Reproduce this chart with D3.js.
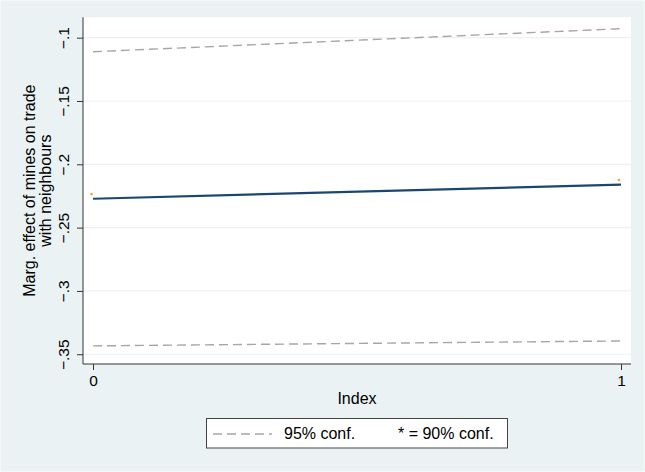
<!DOCTYPE html>
<html>
<head>
<meta charset="utf-8">
<script src="https://cdn.jsdelivr.net/npm/d3@7"></script>
<style>
  body { margin: 0; background: #eaf2f3; }
  svg { display: block; font-family: "Liberation Sans", Arial, sans-serif; }
</style>
</head>
<body>
<svg id="chart" width="645" height="472"></svg>
<script>
// values
const index = [0, 1];
const estimate = [-0.2272, -0.2161];
const upper95 = [-0.1111, -0.0929];
const lower95 = [-0.3434, -0.3395];
const star90 = [-0.2235, -0.2124];

const yTicks = [-0.1, -0.15, -0.2, -0.25, -0.3, -0.35];
const yTickLabels = ["\u2212.1", "\u2212.15", "\u2212.2", "\u2212.25", "\u2212.3", "\u2212.35"];
const xTicks = [0, 1];
const xTickLabels = ["0", "1"];

const yTitle = ["Marg. effect of mines on trade", "with neighbours"];
const xTitle = "Index";
const legendItems = ["95% conf.", "* = 90% conf."];

const navy = "#1a476f";
const dashGrey = "#a6a6a6";
const bg = "#eaf2f3";

const svg = d3.select("#chart");

const plot = { left: 83, right: 631, top: 17.3, bottom: 364 };

const x = d3.scaleLinear().domain([0, 1]).range([93, 621]);
const y = d3.scaleLinear().domain([-0.3577, -0.0839]).range([plot.bottom, plot.top]);

svg.append("rect")
  .attr("x", 0.5).attr("y", 0.5)
  .attr("width", 644).attr("height", 471)
  .attr("fill", bg)
  .attr("stroke", "#f4f8f8");

svg.append("rect")
  .attr("x", plot.left).attr("y", plot.top)
  .attr("width", plot.right - plot.left)
  .attr("height", plot.bottom - plot.top)
  .attr("fill", "#fff");

// gridlines
svg.append("g")
  .selectAll("line")
  .data(yTicks)
  .join("line")
  .attr("x1", plot.left).attr("x2", plot.right)
  .attr("y1", d => y(d)).attr("y2", d => y(d))
  .attr("stroke", bg)
  .attr("stroke-width", 1.2);

const pts = arr => index.map((v, i) => [v, arr[i]]);
const line = d3.line().x(d => x(d[0])).y(d => y(d[1]));

[upper95, lower95].forEach(arr => {
  svg.append("path")
    .attr("d", line(pts(arr)))
    .attr("fill", "none")
    .attr("stroke", dashGrey)
    .attr("stroke-width", 1.4)
    .attr("stroke-dasharray", "9,5");
});

svg.append("path")
  .attr("d", line(pts(estimate)))
  .attr("fill", "none")
  .attr("stroke", navy)
  .attr("stroke-width", 2.2);

svg.append("g")
  .selectAll("rect")
  .data(pts(star90))
  .join("rect")
  .attr("x", (d, i) => x(d[0]) - (i === 0 ? 2.6 : 3.2))
  .attr("y", d => y(d[1]) - 1.2)
  .attr("width", 2.4).attr("height", 2.4)
  .attr("fill", "#f5a04a");

// y axis
const yAxis = svg.append("g")
  .attr("transform", `translate(${plot.left},0)`)
  .call(d3.axisLeft(y).tickValues(yTicks).tickSize(6).tickFormat((d, i) => yTickLabels[i]));
yAxis.select(".domain").attr("d", `M0,${plot.top}V${plot.bottom}`).attr("stroke", "#333");
yAxis.selectAll(".tick line").attr("stroke", "#333");
yAxis.selectAll(".tick text")
  .attr("x", 0).attr("dy", 0)
  .attr("transform", "translate(-14,0) rotate(-90)")
  .attr("text-anchor", "middle")
  .attr("font-size", 15.5)
  .attr("fill", "#000");

// x axis
const xAxis = svg.append("g")
  .attr("transform", `translate(0,${plot.bottom})`)
  .call(d3.axisBottom(x).tickValues(xTicks).tickSize(6).tickFormat((d, i) => xTickLabels[i]));
xAxis.select(".domain").attr("d", `M${plot.left},0H${plot.right}`).attr("stroke", "#333");
xAxis.selectAll(".tick line").attr("stroke", "#333");
xAxis.selectAll(".tick text")
  .attr("y", 22).attr("dy", 0)
  .attr("font-size", 15.5)
  .attr("fill", "#000");

// titles
svg.append("text")
  .attr("transform", `translate(0,${(plot.top + plot.bottom) / 2}) rotate(-90)`)
  .attr("text-anchor", "middle")
  .attr("font-size", 16)
  .selectAll("tspan")
  .data(yTitle)
  .join("tspan")
  .attr("x", 0)
  .attr("y", (d, i) => 35 + i * 15.5)
  .text(d => d);

svg.append("text")
  .attr("x", (plot.left + plot.right) / 2)
  .attr("y", 404)
  .attr("text-anchor", "middle")
  .attr("font-size", 16)
  .text(xTitle);

// legend
const legend = svg.append("g");
legend.append("rect")
  .attr("x", 206.5).attr("y", 418.5)
  .attr("width", 301).attr("height", 29.5)
  .attr("fill", "#fff")
  .attr("stroke", "#444")
  .attr("stroke-width", 1);
legend.append("line")
  .attr("x1", 213).attr("x2", 272)
  .attr("y1", 434).attr("y2", 434)
  .attr("stroke", dashGrey)
  .attr("stroke-width", 1.4)
  .attr("stroke-dasharray", "9,5");
legend.selectAll("text")
  .data(legendItems)
  .join("text")
  .attr("x", (d, i) => (i === 0 ? 284 : 398))
  .attr("y", 439)
  .attr("font-size", 16)
  .text(d => d);
</script>
</body>
</html>
